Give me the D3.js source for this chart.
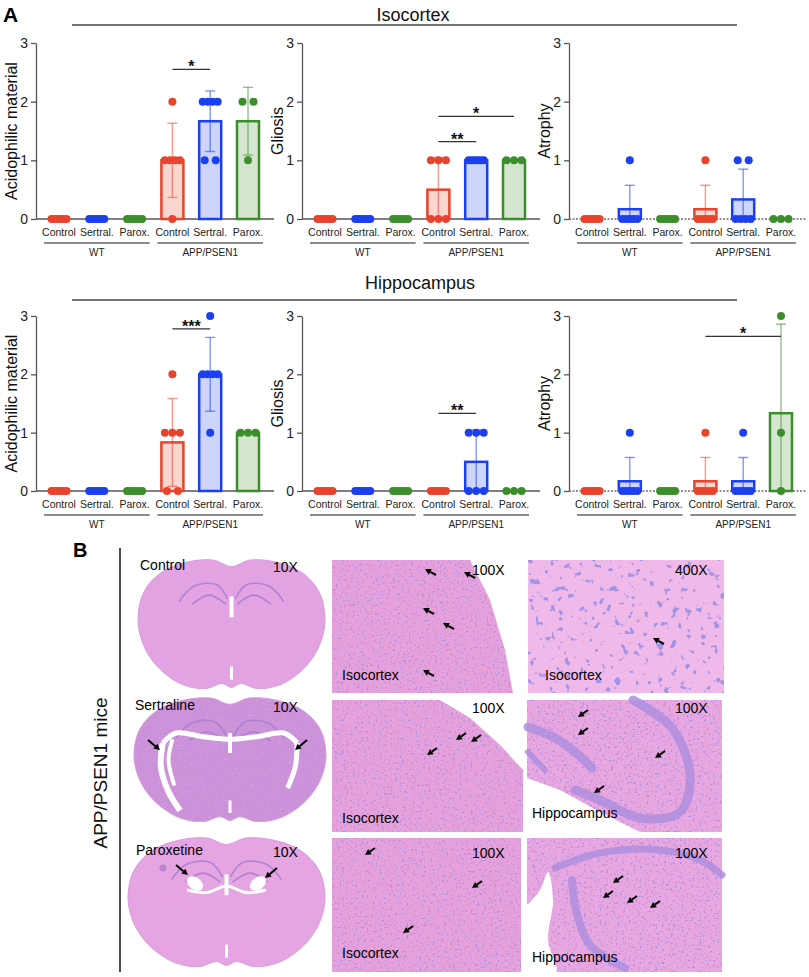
<!DOCTYPE html>
<html>
<head>
<meta charset="utf-8">
<script src="https://cdn.jsdelivr.net/npm/d3@7"></script>
<style>
body { margin: 0; background: #fff; }
svg { display: block; font-family: "Liberation Sans", Arial, Helvetica, sans-serif; }
</style>
</head>
<body>
<div id="fig"></div>
<script>
// x axis groups
const groupKeys = ["wtCtl", "wtSer", "wtPar", "appCtl", "appSer", "appPar"];
const catLabels = ["Control", "Sertral.", "Parox.", "Control", "Sertral.", "Parox."];
const genotypes = ["WT", "APP/PSEN1"];
const yTicks = [0, 1, 2, 3];
const regionTitles = ["Isocortex", "Hippocampus"];
const measureLabels = ["Acidophilic material", "Gliosis", "Atrophy"];
const seriesColors = ["#e8432d", "#1c3ff0", "#3b8e2b"];

// per animal scores (one array per group)
const isoAcid    = [[0,0,0,0,0,0],[0,0,0,0,0,0],[0,0,0,0,0,0],[2,1,1,1,1,0],[2,2,2,2,1,1],[2,2,1]];
const isoGliosis = [[0,0,0,0,0,0],[0,0,0,0,0,0],[0,0,0,0,0,0],[1,1,1,0,0,0],[1,1,1,1,1,1],[1,1,1]];
const isoAtrophy = [[0,0,0,0,0,0],[1,0,0,0,0,0],[0,0,0,0,0,0],[1,0,0,0,0,0],[1,1,0,0,0,0],[0,0,0]];
const hipAcid    = [[0,0,0,0,0,0],[0,0,0,0,0,0],[0,0,0,0,0,0],[2,1,1,1,0,0],[3,2,2,2,2,1],[1,1,1]];
const hipGliosis = [[0,0,0,0,0,0],[0,0,0,0,0,0],[0,0,0,0,0,0],[0,0,0,0,0,0],[1,1,1,0,0,0],[0,0,0]];
const hipAtrophy = [[0,0,0,0,0,0],[1,0,0,0,0,0],[0,0,0,0,0,0],[1,0,0,0,0,0],[1,0,0,0,0,0],[3,1,0]];

// significance brackets: from, to, height, stars
const isoAcidSig    = [["appCtl", "appSer", 2.55, "*"]];
const isoGliosisSig = [["appCtl", "appSer", 1.32, "**"], ["appCtl", "appPar", 1.75, "*"]];
const isoAtrophySig = [];
const hipAcidSig    = [["appCtl", "appSer", 2.78, "***"]];
const hipGliosisSig = [["appCtl", "appSer", 1.33, "**"]];
const hipAtrophySig = [["appCtl", "appPar", 2.65, "*"]];

// panel B labels
const treatments = ["Control", "Sertraline", "Paroxetine"];
const midMag = ["100X", "100X", "100X"];
const rightMag = ["400X", "100X", "100X"];
const midRegion = ["Isocortex", "Isocortex", "Isocortex"];
const rightRegion = ["Isocortex", "Hippocampus", "Hippocampus"];

const W = 809, H = 977;
const svg = d3.select("#fig").append("svg").attr("width", W).attr("height", H);
const defs = svg.append("defs");

const rows = [
  {y0: 219, y3: 43, titleY: 21, lineY: 25, titleX: 413},
  {y0: 491, y3: 316, titleY: 289, lineY: 300, titleX: 420}
];
const axisXs = [36, 302, 569];

const charts = [
  {row: 0, col: 0, data: isoAcid, sig: isoAcidSig},
  {row: 0, col: 1, data: isoGliosis, sig: isoGliosisSig},
  {row: 0, col: 2, data: isoAtrophy, sig: isoAtrophySig},
  {row: 1, col: 0, data: hipAcid, sig: hipAcidSig},
  {row: 1, col: 1, data: hipGliosis, sig: hipGliosisSig},
  {row: 1, col: 2, data: hipAtrophy, sig: hipAtrophySig}
];

// spread equal scores side by side
function dotOffsets(vals) {
  const out = [];
  d3.rollup(vals, v => v.length, d => d).forEach((k, val) => {
    const sp = k > 1 ? Math.min(11, 15 / (k - 1)) : 0;
    for (let i = 0; i < k; i++) out.push({v: val, dx: (i - (k - 1) / 2) * sp});
  });
  return out;
}

svg.append("text").attr("x", 3).attr("y", 22)
  .attr("font-size", 21).attr("font-weight", "bold").text("A");

rows.forEach((r, i) => {
  svg.append("text").attr("x", r.titleX).attr("y", r.titleY)
    .attr("text-anchor", "middle").attr("font-size", 18).attr("fill", "#111")
    .text(regionTitles[i]);
  svg.append("line").attr("x1", 72).attr("x2", 737)
    .attr("y1", r.lineY).attr("y2", r.lineY)
    .attr("stroke", "#444").attr("stroke-width", 1.3);
});

charts.forEach(c => {
  const r = rows[c.row];
  const ax = axisXs[c.col];
  const g = svg.append("g");
  const x = d3.scalePoint().domain(groupKeys).range([ax + 23, ax + 212]);
  const y = d3.scaleLinear().domain([0, 3]).range([r.y0, r.y3]);

  // y label (baseline on the right side of the rotated text)
  g.append("text")
    .attr("transform", `translate(${ax - 19},${(r.y0 + r.y3) / 2}) rotate(-90)`)
    .attr("text-anchor", "middle").attr("font-size", 16).attr("fill", "#111")
    .text(measureLabels[c.col]);

  // x baseline
  g.append("line").attr("x1", ax).attr("x2", ax + 238)
    .attr("y1", r.y0).attr("y2", r.y0)
    .attr("stroke", c.col === 2 ? "#222" : "#555")
    .attr("stroke-width", c.col === 2 ? 1.2 : 1.3)
    .attr("stroke-dasharray", c.col === 2 ? "2,1.5" : null);

  const yAxis = g.append("g").attr("transform", `translate(${ax},0)`)
    .call(d3.axisLeft(y).tickValues(yTicks).tickFormat(d3.format("d"))
      .tickSize(5).tickSizeOuter(0).tickPadding(3));
  yAxis.select(".domain").attr("stroke", "#555").attr("stroke-width", 1.3);
  yAxis.selectAll(".tick line").attr("stroke", "#555").attr("stroke-width", 1.3);
  yAxis.selectAll(".tick text").attr("font-size", 14).attr("fill", "#222")
    .attr("font-family", "Liberation Sans, Arial, sans-serif");

  // category and genotype labels
  g.selectAll(".cat").data(groupKeys).enter().append("text")
    .attr("x", d => x(d)).attr("y", r.y0 + 17)
    .attr("text-anchor", "middle").attr("font-size", 10.5).attr("fill", "#222")
    .text((d, i) => catLabels[i]);
  genotypes.forEach((gt, i) => {
    const ks = groupKeys.slice(i * 3, i * 3 + 3);
    const x1 = x(ks[0]) - 15, x2 = x(ks[2]) + 15;
    g.append("line").attr("x1", x1).attr("x2", x2)
      .attr("y1", r.y0 + 24).attr("y2", r.y0 + 24)
      .attr("stroke", "#666").attr("stroke-width", 1.5);
    g.append("text").attr("x", (x1 + x2) / 2).attr("y", r.y0 + 37)
      .attr("text-anchor", "middle").attr("font-size", 10).attr("fill", "#222").text(gt);
  });

  // bars, error bars, dots
  c.data.forEach((vals, i) => {
    const key = groupKeys[i];
    const col = seriesColors[i % 3];
    const cx = x(key);
    const m = d3.mean(vals), sd = d3.deviation(vals);
    g.append("rect").attr("x", cx - 11).attr("width", 22)
      .attr("y", y(m)).attr("height", y(0) - y(m))
      .attr("fill", col).attr("fill-opacity", 0.22)
      .attr("stroke", col).attr("stroke-width", 2.5);
    if (sd > 0) {
      const lo = Math.max(0, m - sd), hi = m + sd;
      const eb = g.append("g").attr("stroke", col).attr("stroke-opacity", 0.55).attr("stroke-width", 1.4);
      eb.append("line").attr("x1", cx).attr("x2", cx).attr("y1", y(lo)).attr("y2", y(hi));
      eb.append("line").attr("x1", cx - 5).attr("x2", cx + 5).attr("y1", y(hi)).attr("y2", y(hi));
      if (m - sd > 0) eb.append("line").attr("x1", cx - 5).attr("x2", cx + 5).attr("y1", y(lo)).attr("y2", y(lo));
    }
    g.selectAll(null).data(dotOffsets(vals)).enter().append("circle")
      .attr("cx", d => cx + d.dx).attr("cy", d => y(d.v)).attr("r", 4)
      .attr("fill", col);
  });

  // significance
  c.sig.forEach(s => {
    const yy = y(s[2]);
    g.append("line").attr("x1", x(s[0])).attr("x2", x(s[1]))
      .attr("y1", yy).attr("y2", yy).attr("stroke", "#333").attr("stroke-width", 1.3);
    g.append("text").attr("x", (x(s[0]) + x(s[1])) / 2).attr("y", yy + 3)
      .attr("text-anchor", "middle").attr("font-size", 16).attr("font-weight", "bold")
      .attr("fill", "#111").text(s[3]);
  });
});

// ---------- panel B: histology sketches ----------
function speckle(id, freq, rgb, k, b, seed) {
  const f = defs.append("filter").attr("id", id)
    .attr("x", 0).attr("y", 0).attr("width", 1).attr("height", 1);
  f.append("feTurbulence").attr("type", "fractalNoise").attr("baseFrequency", freq)
    .attr("numOctaves", 2).attr("seed", seed).attr("result", "n");
  f.append("feColorMatrix").attr("in", "n").attr("type", "matrix")
    .attr("values", `0 0 0 0 ${rgb[0]} 0 0 0 0 ${rgb[1]} 0 0 0 0 ${rgb[2]} ${k} 0 0 0 ${b}`)
    .attr("result", "s");
  f.append("feComposite").attr("in", "s").attr("in2", "SourceAlpha").attr("operator", "in").attr("result", "c");
  const mg = f.append("feMerge");
  mg.append("feMergeNode").attr("in", "SourceGraphic");
  mg.append("feMergeNode").attr("in", "c");
}
speckle("hne", 0.45, [0.45, 0.28, 0.7], 7, -4.1, 4);
speckle("nuc", 0.14, [0.36, 0.3, 0.78], 14, -8.9, 9);
speckle("brn", 0.6, [0.66, 0.45, 0.82], 5, -3.3, 2);

svg.append("text").attr("x", 73).attr("y", 557)
  .attr("font-size", 20).attr("font-weight", "bold").text("B");
svg.append("line").attr("x1", 120).attr("x2", 120).attr("y1", 548).attr("y2", 972)
  .attr("stroke", "#111").attr("stroke-width", 1.5);
svg.append("text").attr("transform", "translate(107,773) rotate(-90)")
  .attr("text-anchor", "middle").attr("font-size", 19).attr("fill", "#111")
  .text("APP/PSEN1 mice");

const line = d3.line().curve(d3.curveCatmullRom);
const closed = d3.line().curve(d3.curveCatmullRomClosed);
const outline = [[0.5,0.05],[0.6,0],[0.75,0.02],[0.88,0.1],[0.97,0.25],[1,0.45],[0.98,0.62],[0.93,0.76],
  [0.86,0.87],[0.76,0.96],[0.64,0.99],[0.55,0.95],[0.5,0.98],[0.45,0.95],[0.36,0.99],[0.24,0.96],
  [0.14,0.87],[0.07,0.76],[0.02,0.62],[0,0.45],[0.03,0.25],[0.12,0.1],[0.25,0.02],[0.4,0]];
const brainBoxes = [[138, 560, 187, 130], [134, 698, 192, 125], [128, 838, 197, 130]];
const brainFills = ["#e3a3e3", "#cc92d9", "#e6a4e3"];
const map = (bx, pts) => pts.map(p => [bx[0] + p[0] * bx[2], bx[1] + p[1] * bx[3]]);
const mirror = pts => pts.map(p => [1 - p[0], p[1]]);

function arrow(g, tip, tail) {
  const a = Math.atan2(tip[1] - tail[1], tip[0] - tail[0]);
  const L = 6, w = 3.2;
  const bx = tip[0] - L * Math.cos(a), by = tip[1] - L * Math.sin(a);
  g.append("line").attr("x1", tail[0]).attr("y1", tail[1]).attr("x2", bx).attr("y2", by)
    .attr("stroke", "#000").attr("stroke-width", 2);
  g.append("path").attr("d", `M${tip[0]},${tip[1]}L${bx + w * Math.sin(a)},${by - w * Math.cos(a)}L${bx - w * Math.sin(a)},${by + w * Math.cos(a)}Z`)
    .attr("fill", "#000");
}

const pb = svg.append("g");
brainBoxes.forEach((bx, i) => {
  pb.append("path").attr("d", closed(map(bx, outline)))
    .attr("fill", brainFills[i]).attr("stroke", "#d59cda").attr("stroke-width", 1)
    .attr("filter", "url(#brn)");
  const arcL = [[0.22,0.32],[0.3,0.2],[0.42,0.19],[0.48,0.3]];
  const arcL2 = [[0.29,0.34],[0.38,0.27],[0.47,0.34]];
  [arcL, mirror(arcL), arcL2, mirror(arcL2)].forEach(a =>
    pb.append("path").attr("d", line(map(bx, a))).attr("fill", "none")
      .attr("stroke", "#a27bd0").attr("stroke-width", 1.6).attr("stroke-opacity", 0.8));
  pb.append("path").attr("d", line(map(bx, [[0.5,0.28],[0.5,0.44]])))
    .attr("stroke", "#fff").attr("stroke-width", 4);
  pb.append("path").attr("d", line(map(bx, [[0.5,0.82],[0.5,0.92]])))
    .attr("stroke", "#fff").attr("stroke-width", 3);
});
// enlarged ventricles, sertraline
const vs = [[0.15,0.36],[0.22,0.28],[0.36,0.31],[0.5,0.33],[0.64,0.31],[0.78,0.28],[0.85,0.36]];
pb.append("path").attr("d", line(map(brainBoxes[1], vs))).attr("fill", "none")
  .attr("stroke", "#fff").attr("stroke-width", 5);
pb.append("path").attr("d", line(map(brainBoxes[1], [[0.15,0.36],[0.14,0.55],[0.18,0.75],[0.24,0.9]])))
  .attr("fill", "none").attr("stroke", "#fff").attr("stroke-width", 6);
pb.append("path").attr("d", line(map(brainBoxes[1], [[0.85,0.36],[0.84,0.55],[0.8,0.72]])))
  .attr("fill", "none").attr("stroke", "#fff").attr("stroke-width", 5);
pb.append("path").attr("d", line(map(brainBoxes[1], [[0.2,0.33],[0.18,0.5],[0.21,0.7]])))
  .attr("fill", "none").attr("stroke", "#fff").attr("stroke-width", 4);
// enlarged ventricles, paroxetine
[[0.34, 0.35], [0.66, 0.35]].forEach(p => {
  const c = map(brainBoxes[2], [p])[0];
  pb.append("ellipse").attr("cx", c[0]).attr("cy", c[1]).attr("rx", 9).attr("ry", 6)
    .attr("fill", "#fff").attr("transform", `rotate(${p[0] < 0.5 ? 35 : -35},${c[0]},${c[1]})`);
});
pb.append("path").attr("d", line(map(brainBoxes[2], [[0.3,0.4],[0.4,0.42],[0.5,0.37],[0.6,0.42],[0.7,0.4]])))
  .attr("fill", "none").attr("stroke", "#fff").attr("stroke-width", 3);
pb.append("circle").attr("cx", 163).attr("cy", 868).attr("r", 3.5).attr("fill", "#b884cf");

[[[160,750],[148,740]], [[295,750],[307,740]], [[188,875],[176,865]], [[265,878],[277,868]]]
  .forEach(a => arrow(pb, a[0], a[1]));

treatments.forEach((t, i) => {
  const by = [570, 710, 855][i];
  pb.append("text").attr("x", [140, 135, 136][i]).attr("y", by).attr("font-size", 14).text(t);
  pb.append("text").attr("x", 273).attr("y", by + 2).attr("font-size", 14).text("10X");
});

// micrographs
const midShapes = [
  [[332,560],[470,560],[490,600],[505,650],[513,693],[332,693]],
  [[332,700],[440,700],[470,718],[500,745],[523,770],[523,832],[332,832]],
  [[332,838],[521,838],[521,972],[332,972]]
];
midShapes.forEach(s => pb.append("path").attr("d", "M" + s.join("L") + "Z")
  .attr("fill", "#e6a1dd").attr("filter", "url(#hne)"));
pb.append("rect").attr("x", 528).attr("y", 560).attr("width", 196).attr("height", 133)
  .attr("fill", "#efb9ea").attr("filter", "url(#nuc)");
pb.append("rect").attr("x", 527).attr("y", 700).attr("width", 195).attr("height", 132)
  .attr("fill", "#e9a7e2").attr("filter", "url(#hne)");
pb.append("rect").attr("x", 527).attr("y", 838).attr("width", 195).attr("height", 134)
  .attr("fill", "#e9a7e2").attr("filter", "url(#hne)");

// dentate gyrus bands
const band = (pts, w) => pb.append("path").attr("d", line(pts)).attr("fill", "none")
  .attr("stroke", "#ad8ede").attr("stroke-width", w).attr("stroke-opacity", 0.85).attr("stroke-linecap", "round");
band([[633,700],[672,728],[690,775],[680,812],[640,818],[600,800],[575,790]], 9);
band([[528,727],[555,738],[575,752],[592,768]], 9);
band([[528,752],[545,770]], 6);
band([[555,868],[600,853],[660,850],[700,860],[722,875]], 7);
band([[572,880],[576,910],[590,945],[625,968]], 8);
pb.append("path").attr("d", "M527,778L560,790L600,812L640,832L527,832Z").attr("fill", "#fff");
pb.append("path").attr("d", line([[527,905],[540,890],[548,872],[553,900],[548,940],[556,972],[527,972]]))
  .attr("fill", "#fff");

[
  [[425,569],[436,575]], [[464,572],[475,578]], [[423,608],[434,614]], [[443,623],[454,629]],
  [[423,670],[434,676]], [[653,638],[664,644]],
  [[456,740],[466,733]], [[471,742],[481,735]], [[427,755],[437,748]],
  [[578,717],[588,710]], [[578,735],[588,728]], [[655,758],[665,751]], [[594,793],[604,786]],
  [[365,855],[375,848]], [[472,888],[482,881]], [[403,933],[413,926]],
  [[613,883],[623,876]], [[603,898],[613,891]], [[627,903],[637,896]], [[650,908],[660,901]]
].forEach(a => arrow(pb, a[0], a[1]));

[575, 713, 858].forEach((by, i) => {
  pb.append("text").attr("x", 472).attr("y", by).attr("font-size", 14).text(midMag[i]);
  pb.append("text").attr("x", 675).attr("y", by).attr("font-size", 14).text(rightMag[i]);
});
[680, 823, 958].forEach((by, i) => {
  pb.append("text").attr("x", 342).attr("y", by).attr("font-size", 14).text(midRegion[i]);
  pb.append("text").attr("x", i === 0 ? 545 : 532).attr("y", [680, 818, 962][i])
    .attr("font-size", 14).text(rightRegion[i]);
});
</script>
</body>
</html>
